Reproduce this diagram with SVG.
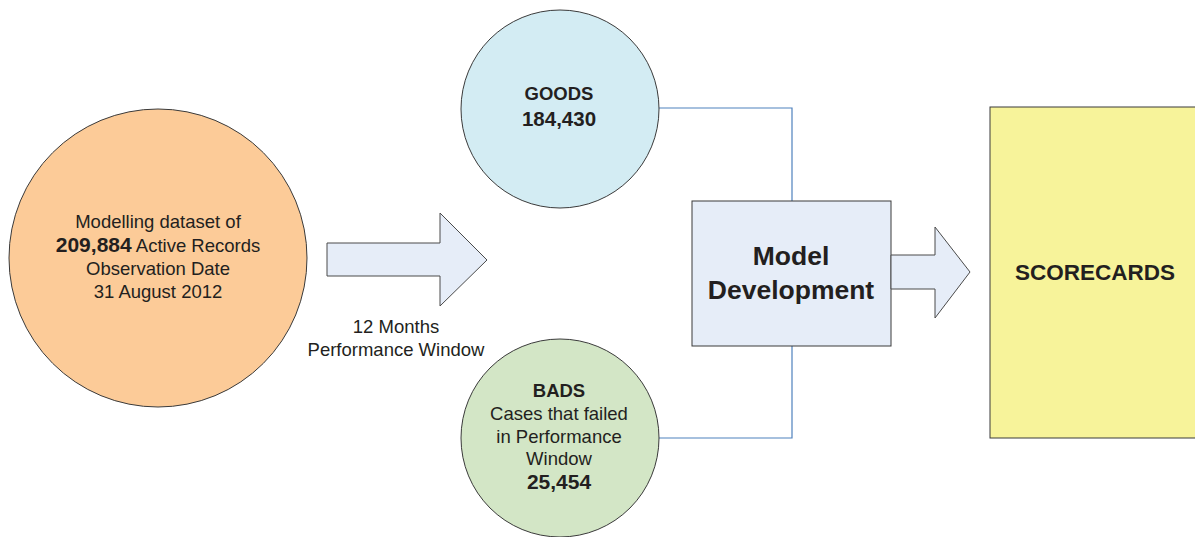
<svg xmlns="http://www.w3.org/2000/svg" width="1195" height="537" viewBox="0 0 1195 537">
<style>
text{font-family:"Liberation Sans",Arial,sans-serif;fill:#231F20;text-anchor:middle}
.r{font-size:18.5px}
.b{font-weight:bold}
.node{stroke:#3a3a3a;stroke-width:1}
.arrow{fill:#E6EDF8;stroke:#4a4a4a;stroke-width:1}
.conn{fill:none;stroke:#4F81BD;stroke-width:1.2}
</style>
<rect width="1195" height="537" fill="#ffffff"/>
<g id="connectors">
<path class="conn" d="M659,108 H792 V201"/>
<path class="conn" d="M659,438 H792 V346"/>
</g>
<g id="dataset">
<circle class="node" cx="158" cy="258" r="149" fill="#FCCB98"/>
<text class="r" x="158" y="228">Modelling dataset of</text>
<text class="r" x="158" y="252"><tspan class="b" font-size="21px">209,884</tspan> Active Records</text>
<text class="r" x="158" y="275">Observation Date</text>
<text class="r" x="158" y="298">31 August 2012</text>
</g>
<g id="arrow1">
<polygon class="arrow" points="327,243 440,243 440,213 487,260 440,306 440,276 327,276"/>
<text class="r" x="396" y="333">12 Months</text>
<text class="r" x="396" y="356">Performance Window</text>
</g>
<g id="goods">
<circle class="node" cx="560" cy="109" r="99" fill="#D3ECF3"/>
<text class="b" font-size="18.5" x="559" y="100">GOODS</text>
<text class="b" font-size="20.5" x="559" y="126">184,430</text>
</g>
<g id="bads">
<circle class="node" cx="560" cy="438" r="99" fill="#D3E6C6"/>
<text class="b" font-size="18.5" x="559" y="397">BADS</text>
<text class="r" x="559" y="420">Cases that failed</text>
<text class="r" x="559" y="443">in Performance</text>
<text class="r" x="559" y="465">Window</text>
<text class="b" font-size="21" x="559" y="489">25,454</text>
</g>
<g id="model">
<rect class="node" x="692" y="201" width="199" height="145" fill="#E6EDF8"/>
<text class="b" font-size="26.5" x="791" y="265">Model</text>
<text class="b" font-size="26.5" x="791" y="299">Development</text>
</g>
<g id="arrow2">
<polygon class="arrow" points="891,255 935,255 935,227 970,272 935,318 935,289 891,289"/>
</g>
<g id="scorecards">
<rect class="node" x="990" y="107" width="210" height="331" fill="#F7F39A"/>
<text class="b" font-size="22.5" x="1095" y="280">SCORECARDS</text>
</g>
</svg>
